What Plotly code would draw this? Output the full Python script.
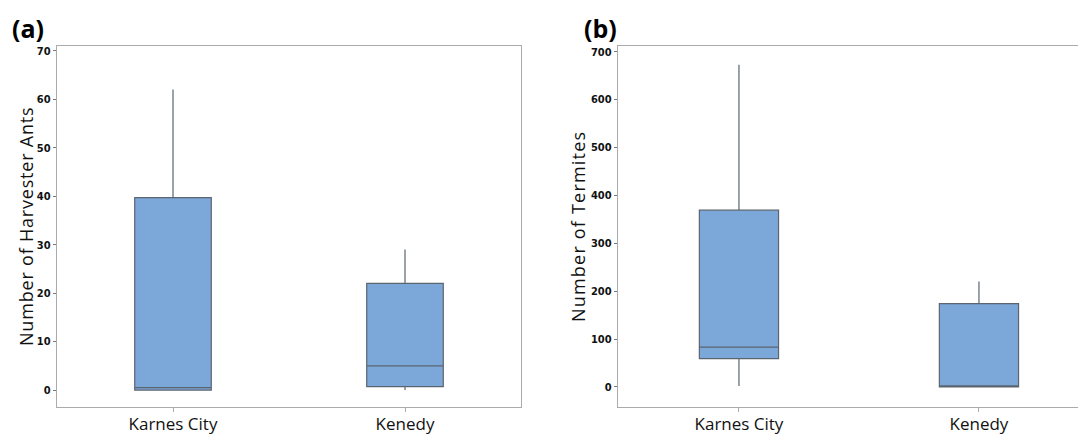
import plotly.graph_objects as go

sites = ["Karnes City", "Kenedy"]
site_pos = [0, 1]

ants_lower = [0, 0]
ants_q1 = [0, 0.7]
ants_median = [0.5, 5]
ants_q3 = [39.7, 22]
ants_upper = [62, 29]

term_lower = [2, 0]
term_q1 = [59, 0]
term_median = [83, 2]
term_q3 = [369, 174]
term_upper = [673, 220]

ants_ticks = [0, 10, 20, 30, 40, 50, 60, 70]
term_ticks = [0, 100, 200, 300, 400, 500, 600, 700]

ants_title = "Number of Harvester Ants"
term_title = "Number of Termites"

FILL = "#7CA7D9"
LINE = "#5B6570"
FRAME = "#ABABAB"

# page has an 8px body margin; figure is placed at (8, 8)
W, H, OFF = 1078, 427, 8


def px(X):
    return (X - OFF) / W


def py(Y):
    return 1 - (Y - OFF) / H


fig = go.Figure()
fig.add_trace(go.Box(
    x=site_pos, q1=ants_q1, median=ants_median, q3=ants_q3,
    lowerfence=ants_lower, upperfence=ants_upper,
    fillcolor=FILL, line=dict(color=LINE, width=1.2), whiskerwidth=0,
    width=0.33, boxpoints=False, xaxis="x", yaxis="y", showlegend=False,
    hoverinfo="skip"))
fig.add_trace(go.Box(
    x=site_pos, q1=term_q1, median=term_median, q3=term_q3,
    lowerfence=term_lower, upperfence=term_upper,
    fillcolor=FILL, line=dict(color=LINE, width=1.2), whiskerwidth=0,
    width=0.33, boxpoints=False, xaxis="x2", yaxis="y2", showlegend=False,
    hoverinfo="skip"))

tickfont = dict(family="DejaVu Sans Condensed, Liberation Sans Narrow, sans-serif",
                size=11, color="#111", weight=600)
catfont = dict(family="Open Sans, Noto Sans, sans-serif", size=17, color="#111")
titlefont = dict(family="Open Sans, Noto Sans, sans-serif", size=18, color="#111")
labelfont = dict(family="Open Sans, Noto Sans, sans-serif", size=25, color="black")

ydom = [py(407), py(46)]

common_x = dict(tickvals=site_pos, ticktext=sites, tickfont=catfont, showline=True,
                linecolor=FRAME, linewidth=1.3, ticks="outside", ticklen=4,
                tickcolor=FRAME, showgrid=False, zeroline=False, fixedrange=True,
                automargin=False, ticklabelstandoff=-3)
common_y = dict(tickfont=tickfont, showline=True, linecolor=FRAME,
                linewidth=1.3, ticks="outside", ticklen=3, tickcolor="#777",
                showgrid=False, zeroline=False, domain=ydom, automargin=False)


def spaced(t, s):
    return '<span style="letter-spacing:%spx">' % s + t + '</span>'


fig.update_layout(
    width=W, height=H,
    margin=dict(l=0, r=0, t=0, b=0, autoexpand=False),
    paper_bgcolor="white", plot_bgcolor="white",
    xaxis=dict(domain=[px(57), px(521)], range=[-0.5, 1.5], anchor="y",
               mirror=True, **common_x),
    yaxis=dict(anchor="x", range=[-3.5, 71], mirror=True,
               tickvals=ants_ticks, **common_y),
    xaxis2=dict(domain=[px(618), 1.0], range=[-0.504, 1.446], anchor="y2",
                mirror=True, **common_x),
    yaxis2=dict(anchor="x2", range=[-42, 712], mirror=False,
                tickvals=term_ticks, **common_y),
    annotations=[
        dict(text="<b>(a)</b>", x=px(10), y=py(28), xref="paper", yref="paper",
             xanchor="left", yanchor="middle", showarrow=False, font=labelfont),
        dict(text="<b>(b)</b>", x=px(582), y=py(28), xref="paper", yref="paper",
             xanchor="left", yanchor="middle", showarrow=False, font=labelfont),
        dict(text=spaced(ants_title, 0.8), x=px(26), y=py(227), xref="paper",
             yref="paper", xanchor="center", yanchor="middle", textangle=-90,
             showarrow=False, font=titlefont),
        dict(text=spaced(term_title, 1.2), x=px(578), y=py(227), xref="paper",
             yref="paper", xanchor="center", yanchor="middle", textangle=-90,
             showarrow=False, font=titlefont),
    ],
)

fig.write_html("out.html")
